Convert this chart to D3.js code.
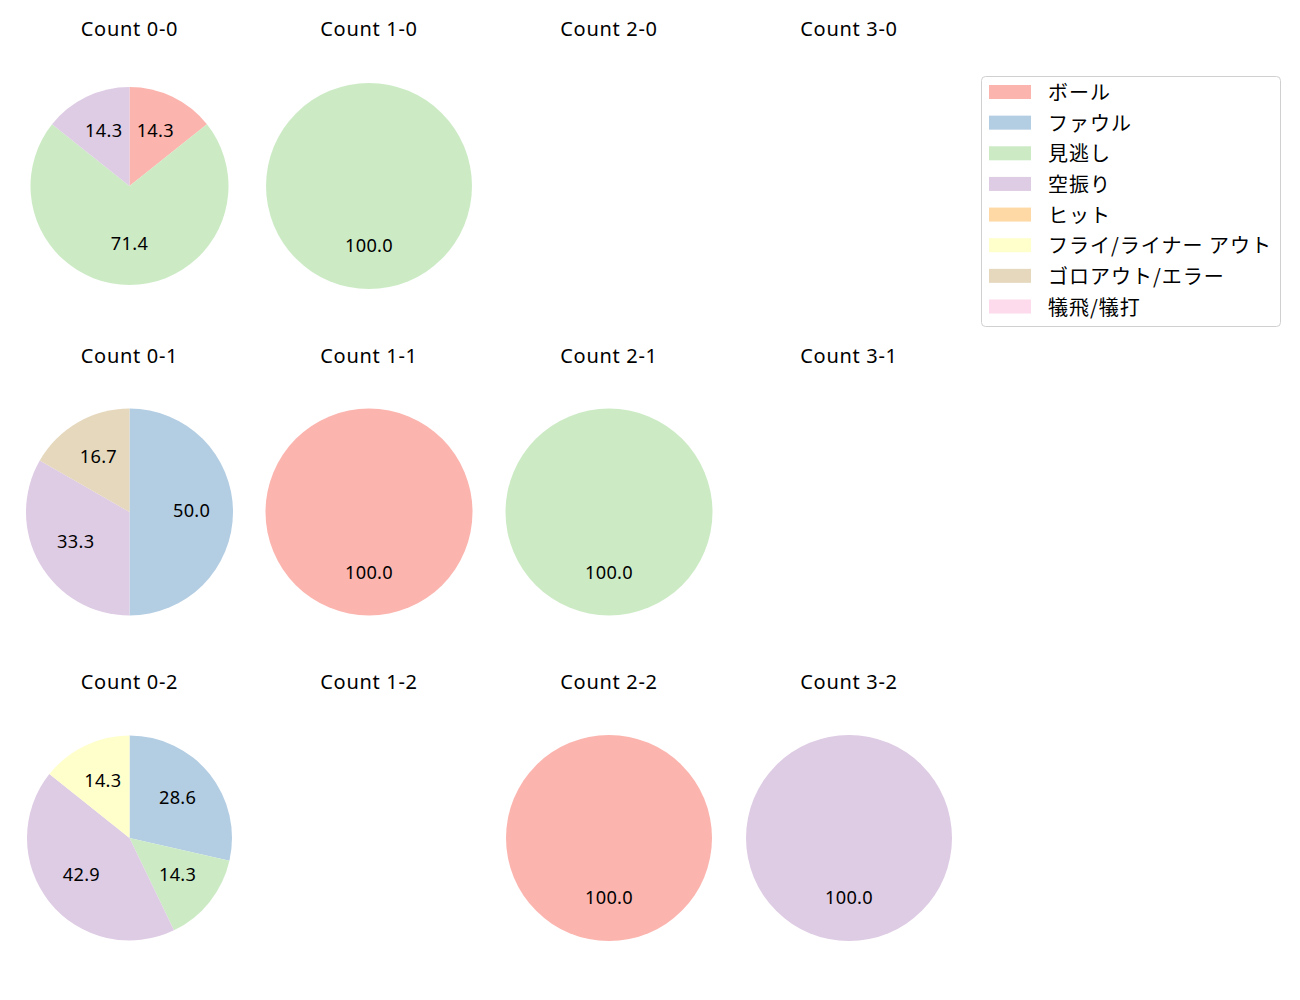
<!DOCTYPE html>
<html><head><meta charset="utf-8">
<script src="https://cdn.jsdelivr.net/npm/d3@7"></script>
<style>body{margin:0;background:#fff}svg{display:block}text{font-family:"Noto Sans","Noto Sans CJK JP",sans-serif}.jp{font-family:"Noto Sans CJK JP","Noto Sans",sans-serif}</style>
</head><body><svg id="c" width="1300" height="1000"></svg>
<script>
const categories = ["ボール","ファウル","見逃し","空振り","ヒット","フライ/ライナー アウト","ゴロアウト/エラー","犠飛/犠打"];
const colors = ["#fbb4ae","#b3cde3","#ccebc5","#decbe4","#fed9a6","#ffffcc","#e5d8bd","#fddaec"];
const countTitles = ["Count 0-0","Count 1-0","Count 2-0","Count 3-0","Count 0-1","Count 1-1","Count 2-1","Count 3-1","Count 0-2","Count 1-2","Count 2-2","Count 3-2"];
// percentages per category, in category order (null = no data)
const values00 = [14.3,0,71.4,14.3,0,0,0,0];
const values10 = [0,0,100,0,0,0,0,0];
const values20 = null;
const values30 = null;
const values01 = [0,50.0,0,33.3,0,0,16.7,0];
const values11 = [100,0,0,0,0,0,0,0];
const values21 = [0,0,100,0,0,0,0,0];
const values31 = null;
const values02 = [0,28.6,14.3,42.9,0,14.3,0,0];
const values12 = null;
const values22 = [100,0,0,0,0,0,0,0];
const values32 = [0,0,0,100,0,0,0,0];
const allValues = [values00,values10,values20,values30,values01,values11,values21,values31,values02,values12,values22,values32];

const svg = d3.select("#c");
const colX = [129.5,369,609,849];
const rowY = [186,512,838];
const titleY = [29,356,682];
const radii = [99,103,103,103, 103.5,103.5,103.5,103.5, 102.5,103,103,103];

const pie = d3.pie().sort(null).value(d=>d.v).startAngle(0).endAngle(2*Math.PI);
allValues.forEach((vals,i)=>{
  const c = i%4, r = Math.floor(i/4);
  const cx = colX[c], cy = rowY[r];
  svg.append("text").attr("x",colX[c]).attr("y",titleY[r]+7.2).attr("text-anchor","middle")
    .attr("font-size",20).attr("letter-spacing",0.7).attr("fill","#000").text(countTitles[i]);
  if(!vals) return;
  const R = radii[i];
  const data = vals.map((v,k)=>({v,k})).filter(d=>d.v>0);
  const arcs = pie(data);
  const arc = d3.arc().innerRadius(0).outerRadius(R);
  const g = svg.append("g").attr("transform",`translate(${cx},${cy})`);
  g.selectAll("path").data(arcs).join("path").attr("d",arc).attr("fill",d=>colors[d.data.k]);
  g.selectAll("text").data(arcs).join("text")
    .attr("x",d=>{const a=(d.startAngle+d.endAngle)/2;return Math.sin(a)*R*0.6;})
    .attr("y",d=>{const a=(d.startAngle+d.endAngle)/2;return -Math.cos(a)*R*0.6+4.5;})
    .attr("text-anchor","middle").attr("letter-spacing",0.3)
    .attr("font-size",18.2).attr("fill","#000").text(d=>d.data.v.toFixed(1));
});

// legend
const lg = svg.append("g");
lg.append("rect").attr("x",981.5).attr("y",76.5).attr("width",299).attr("height",250).attr("rx",4)
  .attr("fill","#fff").attr("stroke","#d0d0d0").attr("stroke-width",1);
const ly = d3.scaleLinear().domain([0,7]).range([92,306.5]);
categories.forEach((cat,k)=>{
  lg.append("rect").attr("x",989).attr("y",ly(k)-7).attr("width",42).attr("height",14).attr("fill",colors[k]);
  lg.append("text").attr("class","jp").attr("x",1048).attr("y",ly(k)-0.5).attr("dominant-baseline","central")
    .attr("font-size",20).attr("letter-spacing",1.0).attr("fill","#000").text(cat);
});
</script></body></html>
